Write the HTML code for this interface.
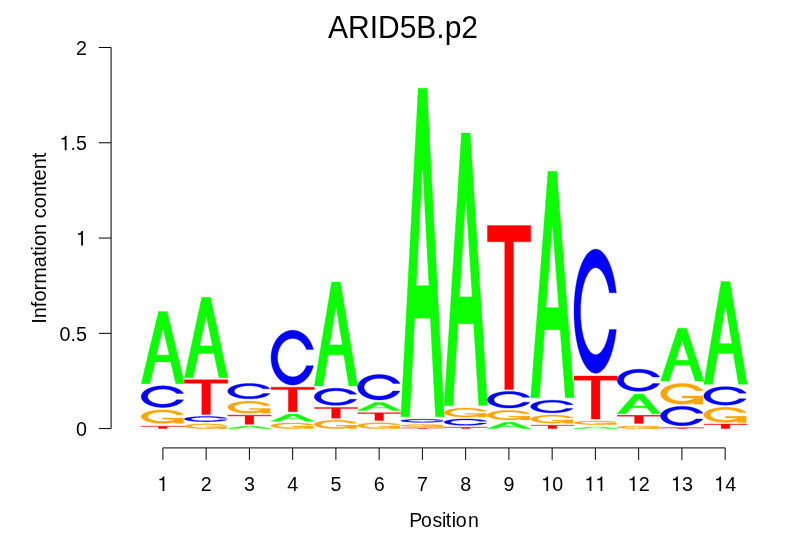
<!DOCTYPE html>
<html><head><meta charset="utf-8"><style>
html,body{margin:0;padding:0;background:#fff;}
body{width:806px;height:559px;overflow:hidden;}
svg{display:block;will-change:transform;}
defs path{vector-effect:non-scaling-stroke;stroke-width:0.35px;stroke-linejoin:round;}
.t{font-family:"Liberation Sans",sans-serif;font-size:19.7px;fill:#000;}
.ti{font-family:"Liberation Sans",sans-serif;font-size:30px;fill:#000;}
</style></head><body>
<svg width="806" height="559" viewBox="0 0 806 559">
<rect width="806" height="559" fill="#fff"/>
<defs><path id="A" d="M0,0 0.4,1 0.6,1 1,0 0.8,0 0.68,0.3 0.32,0.3 0.2,0Z"/>
<path id="Ah" d="M0.36,0.4 0.5,0.75 0.64,0.4Z"/>
<path id="T" d="M0,1 1,1 1,0.9 0.6,0.9 0.6,0 0.4,0 0.4,0.9 0,0.9Z"/>
<path id="C" d="M0.9777,0.3522 0.9757,0.3461 0.9737,0.34 0.9716,0.334 0.9695,0.3279 0.9672,0.3219 0.9649,0.3159 0.9625,0.31 0.96,0.3041 0.9575,0.2982 0.9548,0.2923 0.9521,0.2865 0.9493,0.2807 0.9465,0.275 0.9436,0.2692 0.9406,0.2636 0.9375,0.2579 0.9344,0.2523 0.9311,0.2468 0.9279,0.2413 0.9245,0.2358 0.9211,0.2304 0.9176,0.225 0.914,0.2196 0.9104,0.2144 0.9067,0.2091 0.9029,0.2039 0.8991,0.1988 0.8952,0.1937 0.8912,0.1886 0.8872,0.1836 0.8831,0.1787 0.8789,0.1738 0.8747,0.169 0.8704,0.1642 0.8661,0.1594 0.8617,0.1548 0.8572,0.1502 0.8527,0.1456 0.8481,0.1411 0.8435,0.1367 0.8388,0.1323 0.8341,0.128 0.8293,0.1237 0.8244,0.1195 0.8195,0.1154 0.8145,0.1113 0.8095,0.1073 0.8044,0.1034 0.7993,0.0995 0.7942,0.0957 0.7889,0.0919 0.7837,0.0883 0.7784,0.0847 0.773,0.0811 0.7676,0.0777 0.7622,0.0743 0.7567,0.0709 0.7512,0.0677 0.7456,0.0645 0.74,0.0614 0.7343,0.0583 0.7286,0.0553 0.7229,0.0524 0.7172,0.0496 0.7114,0.0469 0.7055,0.0442 0.6997,0.0416 0.6938,0.0391 0.6878,0.0366 0.6819,0.0342 0.6759,0.0319 0.6698,0.0297 0.6638,0.0276 0.6577,0.0255 0.6516,0.0235 0.6455,0.0216 0.6393,0.0198 0.6332,0.0181 0.627,0.0164 0.6207,0.0148 0.6145,0.0133 0.6082,0.0119 0.602,0.0105 0.5957,0.0092 0.5894,0.0081 0.583,0.0069 0.5767,0.0059 0.5704,0.005 0.564,0.0041 0.5576,0.0033 0.5513,0.0026 0.5449,0.002 0.5385,0.0015 0.5321,0.001 0.5257,0.0007 0.5192,0.0004 0.5128,0.0002 0.5064,0 0.5,0 0.5,0 0.4921,0.0001 0.4841,0.0003 0.4762,0.0006 0.4683,0.001 0.4604,0.0016 0.4525,0.0023 0.4446,0.0031 0.4367,0.004 0.4288,0.0051 0.421,0.0063 0.4132,0.0076 0.4054,0.009 0.3976,0.0106 0.3898,0.0123 0.3821,0.0141 0.3744,0.016 0.3668,0.0181 0.3591,0.0203 0.3515,0.0225 0.344,0.025 0.3365,0.0275 0.329,0.0302 0.3216,0.0329 0.3142,0.0358 0.3068,0.0388 0.2995,0.0419 0.2923,0.0452 0.2851,0.0485 0.278,0.052 0.2709,0.0556 0.2639,0.0593 0.2569,0.0631 0.25,0.067 0.2432,0.071 0.2364,0.0751 0.2297,0.0794 0.223,0.0837 0.2165,0.0882 0.21,0.0927 0.2035,0.0974 0.1972,0.1021 0.1909,0.107 0.1847,0.1119 0.1786,0.117 0.1726,0.1221 0.1666,0.1274 0.1607,0.1327 0.155,0.1381 0.1493,0.1437 0.1437,0.1493 0.1381,0.155 0.1327,0.1607 0.1274,0.1666 0.1221,0.1726 0.117,0.1786 0.1119,0.1847 0.107,0.1909 0.1021,0.1972 0.0974,0.2035 0.0927,0.21 0.0882,0.2165 0.0837,0.223 0.0794,0.2297 0.0751,0.2364 0.071,0.2432 0.067,0.25 0.0631,0.2569 0.0593,0.2639 0.0556,0.2709 0.052,0.278 0.0485,0.2851 0.0452,0.2923 0.0419,0.2995 0.0388,0.3068 0.0358,0.3142 0.0329,0.3216 0.0302,0.329 0.0275,0.3365 0.025,0.344 0.0225,0.3515 0.0203,0.3591 0.0181,0.3668 0.016,0.3744 0.0141,0.3821 0.0123,0.3898 0.0106,0.3976 0.009,0.4054 0.0076,0.4132 0.0063,0.421 0.0051,0.4288 0.004,0.4367 0.0031,0.4446 0.0023,0.4525 0.0016,0.4604 0.001,0.4683 0.0006,0.4762 0.0003,0.4841 0.0001,0.4921 0,0.5 0,0.5 0.0001,0.5079 0.0003,0.5159 0.0006,0.5238 0.001,0.5317 0.0016,0.5396 0.0023,0.5475 0.0031,0.5554 0.004,0.5633 0.0051,0.5712 0.0063,0.579 0.0076,0.5868 0.009,0.5946 0.0106,0.6024 0.0123,0.6102 0.0141,0.6179 0.016,0.6256 0.0181,0.6332 0.0203,0.6409 0.0225,0.6485 0.025,0.656 0.0275,0.6635 0.0302,0.671 0.0329,0.6784 0.0358,0.6858 0.0388,0.6932 0.0419,0.7005 0.0452,0.7077 0.0485,0.7149 0.052,0.722 0.0556,0.7291 0.0593,0.7361 0.0631,0.7431 0.067,0.75 0.071,0.7568 0.0751,0.7636 0.0794,0.7703 0.0837,0.777 0.0882,0.7835 0.0927,0.79 0.0974,0.7965 0.1021,0.8028 0.107,0.8091 0.1119,0.8153 0.117,0.8214 0.1221,0.8274 0.1274,0.8334 0.1327,0.8393 0.1381,0.845 0.1437,0.8507 0.1493,0.8563 0.155,0.8619 0.1607,0.8673 0.1666,0.8726 0.1726,0.8779 0.1786,0.883 0.1847,0.8881 0.1909,0.893 0.1972,0.8979 0.2035,0.9026 0.21,0.9073 0.2165,0.9118 0.223,0.9163 0.2297,0.9206 0.2364,0.9249 0.2432,0.929 0.25,0.933 0.2569,0.9369 0.2639,0.9407 0.2709,0.9444 0.278,0.948 0.2851,0.9515 0.2923,0.9548 0.2995,0.9581 0.3068,0.9612 0.3142,0.9642 0.3216,0.9671 0.329,0.9698 0.3365,0.9725 0.344,0.975 0.3515,0.9775 0.3591,0.9797 0.3668,0.9819 0.3744,0.984 0.3821,0.9859 0.3898,0.9877 0.3976,0.9894 0.4054,0.991 0.4132,0.9924 0.421,0.9937 0.4288,0.9949 0.4367,0.996 0.4446,0.9969 0.4525,0.9977 0.4604,0.9984 0.4683,0.999 0.4762,0.9994 0.4841,0.9997 0.4921,0.9999 0.5,1 0.5,1 0.5064,1 0.5128,0.9998 0.5192,0.9996 0.5257,0.9993 0.5321,0.999 0.5385,0.9985 0.5449,0.998 0.5513,0.9974 0.5576,0.9967 0.564,0.9959 0.5704,0.995 0.5767,0.9941 0.583,0.9931 0.5894,0.9919 0.5957,0.9908 0.602,0.9895 0.6082,0.9881 0.6145,0.9867 0.6207,0.9852 0.627,0.9836 0.6332,0.9819 0.6393,0.9802 0.6455,0.9784 0.6516,0.9765 0.6577,0.9745 0.6638,0.9724 0.6698,0.9703 0.6759,0.9681 0.6819,0.9658 0.6878,0.9634 0.6938,0.9609 0.6997,0.9584 0.7055,0.9558 0.7114,0.9531 0.7172,0.9504 0.7229,0.9476 0.7286,0.9447 0.7343,0.9417 0.74,0.9386 0.7456,0.9355 0.7512,0.9323 0.7567,0.9291 0.7622,0.9257 0.7676,0.9223 0.773,0.9189 0.7784,0.9153 0.7837,0.9117 0.7889,0.9081 0.7942,0.9043 0.7993,0.9005 0.8044,0.8966 0.8095,0.8927 0.8145,0.8887 0.8195,0.8846 0.8244,0.8805 0.8293,0.8763 0.8341,0.872 0.8388,0.8677 0.8435,0.8633 0.8481,0.8589 0.8527,0.8544 0.8572,0.8498 0.8617,0.8452 0.8661,0.8406 0.8704,0.8358 0.8747,0.831 0.8789,0.8262 0.8831,0.8213 0.8872,0.8164 0.8912,0.8114 0.8952,0.8063 0.8991,0.8012 0.9029,0.7961 0.9067,0.7909 0.9104,0.7856 0.914,0.7804 0.9176,0.775 0.9211,0.7696 0.9245,0.7642 0.9279,0.7587 0.9311,0.7532 0.9344,0.7477 0.9375,0.7421 0.9406,0.7364 0.9436,0.7308 0.9465,0.725 0.9493,0.7193 0.9521,0.7135 0.9548,0.7077 0.9575,0.7018 0.96,0.6959 0.9625,0.69 0.9649,0.6841 0.9672,0.6781 0.9695,0.6721 0.9716,0.666 0.9737,0.66 0.9757,0.6539 0.9777,0.6478 0.8165,0.6478 0.8145,0.6535 0.8125,0.6575 0.8105,0.6615 0.8084,0.6655 0.8062,0.6694 0.804,0.6734 0.8018,0.6773 0.7995,0.6811 0.7971,0.6849 0.7947,0.6887 0.7923,0.6925 0.7898,0.6962 0.7873,0.7 0.7847,0.7036 0.782,0.7073 0.7794,0.7109 0.7766,0.7144 0.7738,0.718 0.771,0.7215 0.7682,0.7249 0.7653,0.7283 0.7623,0.7317 0.7593,0.7351 0.7563,0.7384 0.7532,0.7417 0.7501,0.7449 0.7469,0.7481 0.7437,0.7512 0.7404,0.7543 0.7372,0.7574 0.7338,0.7604 0.7305,0.7634 0.7271,0.7663 0.7236,0.7692 0.7202,0.7721 0.7167,0.7749 0.7131,0.7776 0.7095,0.7804 0.7059,0.783 0.7023,0.7856 0.6986,0.7882 0.6949,0.7907 0.6911,0.7932 0.6873,0.7956 0.6835,0.798 0.6797,0.8004 0.6758,0.8026 0.6719,0.8049 0.668,0.8071 0.664,0.8092 0.6601,0.8113 0.656,0.8133 0.652,0.8153 0.6479,0.8172 0.6439,0.8191 0.6398,0.8209 0.6356,0.8227 0.6315,0.8244 0.6273,0.826 0.6231,0.8276 0.6189,0.8292 0.6147,0.8307 0.6104,0.8321 0.6061,0.8335 0.6018,0.8349 0.5975,0.8361 0.5932,0.8374 0.5889,0.8385 0.5845,0.8396 0.5802,0.8407 0.5758,0.8417 0.5714,0.8426 0.567,0.8435 0.5626,0.8444 0.5581,0.8451 0.5537,0.8459 0.5493,0.8465 0.5448,0.8471 0.5403,0.8477 0.5359,0.8482 0.5314,0.8486 0.5269,0.849 0.5224,0.8493 0.518,0.8495 0.5135,0.8497 0.509,0.8499 0.5045,0.85 0.5,0.85 0.5,0.85 0.4944,0.85 0.4889,0.8498 0.4833,0.8496 0.4778,0.8493 0.4723,0.8489 0.4667,0.8484 0.4612,0.8478 0.4557,0.8472 0.4502,0.8464 0.4447,0.8456 0.4392,0.8447 0.4338,0.8437 0.4283,0.8426 0.4229,0.8414 0.4175,0.8401 0.4121,0.8388 0.4067,0.8373 0.4014,0.8358 0.3961,0.8342 0.3908,0.8325 0.3855,0.8308 0.3803,0.8289 0.3751,0.827 0.3699,0.8249 0.3648,0.8228 0.3597,0.8206 0.3546,0.8184 0.3496,0.816 0.3446,0.8136 0.3396,0.8111 0.3347,0.8085 0.3298,0.8058 0.325,0.8031 0.3202,0.8003 0.3155,0.7974 0.3108,0.7944 0.3061,0.7914 0.3015,0.7883 0.297,0.7851 0.2925,0.7818 0.288,0.7785 0.2836,0.7751 0.2793,0.7717 0.275,0.7681 0.2708,0.7645 0.2666,0.7608 0.2625,0.7571 0.2585,0.7533 0.2545,0.7494 0.2506,0.7455 0.2467,0.7415 0.2429,0.7375 0.2392,0.7334 0.2355,0.7292 0.2319,0.725 0.2283,0.7207 0.2249,0.7164 0.2215,0.712 0.2182,0.7075 0.2149,0.703 0.2117,0.6985 0.2086,0.6939 0.2056,0.6892 0.2026,0.6845 0.1997,0.6798 0.1969,0.675 0.1942,0.6702 0.1915,0.6653 0.1889,0.6604 0.1864,0.6554 0.184,0.6504 0.1816,0.6454 0.1794,0.6403 0.1772,0.6352 0.1751,0.6301 0.173,0.6249 0.1711,0.6197 0.1692,0.6145 0.1675,0.6092 0.1658,0.6039 0.1642,0.5986 0.1627,0.5933 0.1612,0.5879 0.1599,0.5825 0.1586,0.5771 0.1574,0.5717 0.1563,0.5662 0.1553,0.5608 0.1544,0.5553 0.1536,0.5498 0.1528,0.5443 0.1522,0.5388 0.1516,0.5333 0.1511,0.5277 0.1507,0.5222 0.1504,0.5167 0.1502,0.5111 0.15,0.5056 0.15,0.5 0.15,0.5 0.15,0.4944 0.1502,0.4889 0.1504,0.4833 0.1507,0.4778 0.1511,0.4723 0.1516,0.4667 0.1522,0.4612 0.1528,0.4557 0.1536,0.4502 0.1544,0.4447 0.1553,0.4392 0.1563,0.4338 0.1574,0.4283 0.1586,0.4229 0.1599,0.4175 0.1612,0.4121 0.1627,0.4067 0.1642,0.4014 0.1658,0.3961 0.1675,0.3908 0.1692,0.3855 0.1711,0.3803 0.173,0.3751 0.1751,0.3699 0.1772,0.3648 0.1794,0.3597 0.1816,0.3546 0.184,0.3496 0.1864,0.3446 0.1889,0.3396 0.1915,0.3347 0.1942,0.3298 0.1969,0.325 0.1997,0.3202 0.2026,0.3155 0.2056,0.3108 0.2086,0.3061 0.2117,0.3015 0.2149,0.297 0.2182,0.2925 0.2215,0.288 0.2249,0.2836 0.2283,0.2793 0.2319,0.275 0.2355,0.2708 0.2392,0.2666 0.2429,0.2625 0.2467,0.2585 0.2506,0.2545 0.2545,0.2506 0.2585,0.2467 0.2625,0.2429 0.2666,0.2392 0.2708,0.2355 0.275,0.2319 0.2793,0.2283 0.2836,0.2249 0.288,0.2215 0.2925,0.2182 0.297,0.2149 0.3015,0.2117 0.3061,0.2086 0.3108,0.2056 0.3155,0.2026 0.3202,0.1997 0.325,0.1969 0.3298,0.1942 0.3347,0.1915 0.3396,0.1889 0.3446,0.1864 0.3496,0.184 0.3546,0.1816 0.3597,0.1794 0.3648,0.1772 0.3699,0.1751 0.3751,0.173 0.3803,0.1711 0.3855,0.1692 0.3908,0.1675 0.3961,0.1658 0.4014,0.1642 0.4067,0.1627 0.4121,0.1612 0.4175,0.1599 0.4229,0.1586 0.4283,0.1574 0.4338,0.1563 0.4392,0.1553 0.4447,0.1544 0.4502,0.1536 0.4557,0.1528 0.4612,0.1522 0.4667,0.1516 0.4723,0.1511 0.4778,0.1507 0.4833,0.1504 0.4889,0.1502 0.4944,0.15 0.5,0.15 0.5,0.15 0.5045,0.15 0.509,0.1501 0.5135,0.1503 0.518,0.1505 0.5224,0.1507 0.5269,0.151 0.5314,0.1514 0.5359,0.1518 0.5403,0.1523 0.5448,0.1529 0.5493,0.1535 0.5537,0.1541 0.5581,0.1549 0.5626,0.1556 0.567,0.1565 0.5714,0.1574 0.5758,0.1583 0.5802,0.1593 0.5845,0.1604 0.5889,0.1615 0.5932,0.1626 0.5975,0.1639 0.6018,0.1651 0.6061,0.1665 0.6104,0.1679 0.6147,0.1693 0.6189,0.1708 0.6231,0.1724 0.6273,0.174 0.6315,0.1756 0.6356,0.1773 0.6398,0.1791 0.6439,0.1809 0.6479,0.1828 0.652,0.1847 0.656,0.1867 0.6601,0.1887 0.664,0.1908 0.668,0.1929 0.6719,0.1951 0.6758,0.1974 0.6797,0.1996 0.6835,0.202 0.6873,0.2044 0.6911,0.2068 0.6949,0.2093 0.6986,0.2118 0.7023,0.2144 0.7059,0.217 0.7095,0.2196 0.7131,0.2224 0.7167,0.2251 0.7202,0.2279 0.7236,0.2308 0.7271,0.2337 0.7305,0.2366 0.7338,0.2396 0.7372,0.2426 0.7404,0.2457 0.7437,0.2488 0.7469,0.2519 0.7501,0.2551 0.7532,0.2583 0.7563,0.2616 0.7593,0.2649 0.7623,0.2683 0.7653,0.2717 0.7682,0.2751 0.771,0.2785 0.7738,0.282 0.7766,0.2856 0.7794,0.2891 0.782,0.2927 0.7847,0.2964 0.7873,0.3 0.7898,0.3038 0.7923,0.3075 0.7947,0.3113 0.7971,0.3151 0.7995,0.3189 0.8018,0.3227 0.804,0.3266 0.8062,0.3306 0.8084,0.3345 0.8105,0.3385 0.8125,0.3425 0.8145,0.3465 0.8165,0.3522Z"/>
<g id="G"><path d="M0.9777,0.3522 0.9757,0.3461 0.9737,0.34 0.9716,0.334 0.9695,0.3279 0.9672,0.3219 0.9649,0.3159 0.9625,0.31 0.96,0.3041 0.9575,0.2982 0.9548,0.2923 0.9521,0.2865 0.9493,0.2807 0.9465,0.275 0.9436,0.2692 0.9406,0.2636 0.9375,0.2579 0.9344,0.2523 0.9311,0.2468 0.9279,0.2413 0.9245,0.2358 0.9211,0.2304 0.9176,0.225 0.914,0.2196 0.9104,0.2144 0.9067,0.2091 0.9029,0.2039 0.8991,0.1988 0.8952,0.1937 0.8912,0.1886 0.8872,0.1836 0.8831,0.1787 0.8789,0.1738 0.8747,0.169 0.8704,0.1642 0.8661,0.1594 0.8617,0.1548 0.8572,0.1502 0.8527,0.1456 0.8481,0.1411 0.8435,0.1367 0.8388,0.1323 0.8341,0.128 0.8293,0.1237 0.8244,0.1195 0.8195,0.1154 0.8145,0.1113 0.8095,0.1073 0.8044,0.1034 0.7993,0.0995 0.7942,0.0957 0.7889,0.0919 0.7837,0.0883 0.7784,0.0847 0.773,0.0811 0.7676,0.0777 0.7622,0.0743 0.7567,0.0709 0.7512,0.0677 0.7456,0.0645 0.74,0.0614 0.7343,0.0583 0.7286,0.0553 0.7229,0.0524 0.7172,0.0496 0.7114,0.0469 0.7055,0.0442 0.6997,0.0416 0.6938,0.0391 0.6878,0.0366 0.6819,0.0342 0.6759,0.0319 0.6698,0.0297 0.6638,0.0276 0.6577,0.0255 0.6516,0.0235 0.6455,0.0216 0.6393,0.0198 0.6332,0.0181 0.627,0.0164 0.6207,0.0148 0.6145,0.0133 0.6082,0.0119 0.602,0.0105 0.5957,0.0092 0.5894,0.0081 0.583,0.0069 0.5767,0.0059 0.5704,0.005 0.564,0.0041 0.5576,0.0033 0.5513,0.0026 0.5449,0.002 0.5385,0.0015 0.5321,0.001 0.5257,0.0007 0.5192,0.0004 0.5128,0.0002 0.5064,0 0.5,0 0.5,0 0.4921,0.0001 0.4841,0.0003 0.4762,0.0006 0.4683,0.001 0.4604,0.0016 0.4525,0.0023 0.4446,0.0031 0.4367,0.004 0.4288,0.0051 0.421,0.0063 0.4132,0.0076 0.4054,0.009 0.3976,0.0106 0.3898,0.0123 0.3821,0.0141 0.3744,0.016 0.3668,0.0181 0.3591,0.0203 0.3515,0.0225 0.344,0.025 0.3365,0.0275 0.329,0.0302 0.3216,0.0329 0.3142,0.0358 0.3068,0.0388 0.2995,0.0419 0.2923,0.0452 0.2851,0.0485 0.278,0.052 0.2709,0.0556 0.2639,0.0593 0.2569,0.0631 0.25,0.067 0.2432,0.071 0.2364,0.0751 0.2297,0.0794 0.223,0.0837 0.2165,0.0882 0.21,0.0927 0.2035,0.0974 0.1972,0.1021 0.1909,0.107 0.1847,0.1119 0.1786,0.117 0.1726,0.1221 0.1666,0.1274 0.1607,0.1327 0.155,0.1381 0.1493,0.1437 0.1437,0.1493 0.1381,0.155 0.1327,0.1607 0.1274,0.1666 0.1221,0.1726 0.117,0.1786 0.1119,0.1847 0.107,0.1909 0.1021,0.1972 0.0974,0.2035 0.0927,0.21 0.0882,0.2165 0.0837,0.223 0.0794,0.2297 0.0751,0.2364 0.071,0.2432 0.067,0.25 0.0631,0.2569 0.0593,0.2639 0.0556,0.2709 0.052,0.278 0.0485,0.2851 0.0452,0.2923 0.0419,0.2995 0.0388,0.3068 0.0358,0.3142 0.0329,0.3216 0.0302,0.329 0.0275,0.3365 0.025,0.344 0.0225,0.3515 0.0203,0.3591 0.0181,0.3668 0.016,0.3744 0.0141,0.3821 0.0123,0.3898 0.0106,0.3976 0.009,0.4054 0.0076,0.4132 0.0063,0.421 0.0051,0.4288 0.004,0.4367 0.0031,0.4446 0.0023,0.4525 0.0016,0.4604 0.001,0.4683 0.0006,0.4762 0.0003,0.4841 0.0001,0.4921 0,0.5 0,0.5 0.0001,0.5079 0.0003,0.5159 0.0006,0.5238 0.001,0.5317 0.0016,0.5396 0.0023,0.5475 0.0031,0.5554 0.004,0.5633 0.0051,0.5712 0.0063,0.579 0.0076,0.5868 0.009,0.5946 0.0106,0.6024 0.0123,0.6102 0.0141,0.6179 0.016,0.6256 0.0181,0.6332 0.0203,0.6409 0.0225,0.6485 0.025,0.656 0.0275,0.6635 0.0302,0.671 0.0329,0.6784 0.0358,0.6858 0.0388,0.6932 0.0419,0.7005 0.0452,0.7077 0.0485,0.7149 0.052,0.722 0.0556,0.7291 0.0593,0.7361 0.0631,0.7431 0.067,0.75 0.071,0.7568 0.0751,0.7636 0.0794,0.7703 0.0837,0.777 0.0882,0.7835 0.0927,0.79 0.0974,0.7965 0.1021,0.8028 0.107,0.8091 0.1119,0.8153 0.117,0.8214 0.1221,0.8274 0.1274,0.8334 0.1327,0.8393 0.1381,0.845 0.1437,0.8507 0.1493,0.8563 0.155,0.8619 0.1607,0.8673 0.1666,0.8726 0.1726,0.8779 0.1786,0.883 0.1847,0.8881 0.1909,0.893 0.1972,0.8979 0.2035,0.9026 0.21,0.9073 0.2165,0.9118 0.223,0.9163 0.2297,0.9206 0.2364,0.9249 0.2432,0.929 0.25,0.933 0.2569,0.9369 0.2639,0.9407 0.2709,0.9444 0.278,0.948 0.2851,0.9515 0.2923,0.9548 0.2995,0.9581 0.3068,0.9612 0.3142,0.9642 0.3216,0.9671 0.329,0.9698 0.3365,0.9725 0.344,0.975 0.3515,0.9775 0.3591,0.9797 0.3668,0.9819 0.3744,0.984 0.3821,0.9859 0.3898,0.9877 0.3976,0.9894 0.4054,0.991 0.4132,0.9924 0.421,0.9937 0.4288,0.9949 0.4367,0.996 0.4446,0.9969 0.4525,0.9977 0.4604,0.9984 0.4683,0.999 0.4762,0.9994 0.4841,0.9997 0.4921,0.9999 0.5,1 0.5,1 0.5064,1 0.5128,0.9998 0.5192,0.9996 0.5257,0.9993 0.5321,0.999 0.5385,0.9985 0.5449,0.998 0.5513,0.9974 0.5576,0.9967 0.564,0.9959 0.5704,0.995 0.5767,0.9941 0.583,0.9931 0.5894,0.9919 0.5957,0.9908 0.602,0.9895 0.6082,0.9881 0.6145,0.9867 0.6207,0.9852 0.627,0.9836 0.6332,0.9819 0.6393,0.9802 0.6455,0.9784 0.6516,0.9765 0.6577,0.9745 0.6638,0.9724 0.6698,0.9703 0.6759,0.9681 0.6819,0.9658 0.6878,0.9634 0.6938,0.9609 0.6997,0.9584 0.7055,0.9558 0.7114,0.9531 0.7172,0.9504 0.7229,0.9476 0.7286,0.9447 0.7343,0.9417 0.74,0.9386 0.7456,0.9355 0.7512,0.9323 0.7567,0.9291 0.7622,0.9257 0.7676,0.9223 0.773,0.9189 0.7784,0.9153 0.7837,0.9117 0.7889,0.9081 0.7942,0.9043 0.7993,0.9005 0.8044,0.8966 0.8095,0.8927 0.8145,0.8887 0.8195,0.8846 0.8244,0.8805 0.8293,0.8763 0.8341,0.872 0.8388,0.8677 0.8435,0.8633 0.8481,0.8589 0.8527,0.8544 0.8572,0.8498 0.8617,0.8452 0.8661,0.8406 0.8704,0.8358 0.8747,0.831 0.8789,0.8262 0.8831,0.8213 0.8872,0.8164 0.8912,0.8114 0.8952,0.8063 0.8991,0.8012 0.9029,0.7961 0.9067,0.7909 0.9104,0.7856 0.914,0.7804 0.9176,0.775 0.9211,0.7696 0.9245,0.7642 0.9279,0.7587 0.9311,0.7532 0.9344,0.7477 0.9375,0.7421 0.9406,0.7364 0.9436,0.7308 0.9465,0.725 0.9493,0.7193 0.9521,0.7135 0.9548,0.7077 0.9575,0.7018 0.96,0.6959 0.9625,0.69 0.9649,0.6841 0.9672,0.6781 0.9695,0.6721 0.9716,0.666 0.9737,0.66 0.9757,0.6539 0.9777,0.6478 0.8165,0.6478 0.8145,0.6535 0.8125,0.6575 0.8105,0.6615 0.8084,0.6655 0.8062,0.6694 0.804,0.6734 0.8018,0.6773 0.7995,0.6811 0.7971,0.6849 0.7947,0.6887 0.7923,0.6925 0.7898,0.6962 0.7873,0.7 0.7847,0.7036 0.782,0.7073 0.7794,0.7109 0.7766,0.7144 0.7738,0.718 0.771,0.7215 0.7682,0.7249 0.7653,0.7283 0.7623,0.7317 0.7593,0.7351 0.7563,0.7384 0.7532,0.7417 0.7501,0.7449 0.7469,0.7481 0.7437,0.7512 0.7404,0.7543 0.7372,0.7574 0.7338,0.7604 0.7305,0.7634 0.7271,0.7663 0.7236,0.7692 0.7202,0.7721 0.7167,0.7749 0.7131,0.7776 0.7095,0.7804 0.7059,0.783 0.7023,0.7856 0.6986,0.7882 0.6949,0.7907 0.6911,0.7932 0.6873,0.7956 0.6835,0.798 0.6797,0.8004 0.6758,0.8026 0.6719,0.8049 0.668,0.8071 0.664,0.8092 0.6601,0.8113 0.656,0.8133 0.652,0.8153 0.6479,0.8172 0.6439,0.8191 0.6398,0.8209 0.6356,0.8227 0.6315,0.8244 0.6273,0.826 0.6231,0.8276 0.6189,0.8292 0.6147,0.8307 0.6104,0.8321 0.6061,0.8335 0.6018,0.8349 0.5975,0.8361 0.5932,0.8374 0.5889,0.8385 0.5845,0.8396 0.5802,0.8407 0.5758,0.8417 0.5714,0.8426 0.567,0.8435 0.5626,0.8444 0.5581,0.8451 0.5537,0.8459 0.5493,0.8465 0.5448,0.8471 0.5403,0.8477 0.5359,0.8482 0.5314,0.8486 0.5269,0.849 0.5224,0.8493 0.518,0.8495 0.5135,0.8497 0.509,0.8499 0.5045,0.85 0.5,0.85 0.5,0.85 0.4944,0.85 0.4889,0.8498 0.4833,0.8496 0.4778,0.8493 0.4723,0.8489 0.4667,0.8484 0.4612,0.8478 0.4557,0.8472 0.4502,0.8464 0.4447,0.8456 0.4392,0.8447 0.4338,0.8437 0.4283,0.8426 0.4229,0.8414 0.4175,0.8401 0.4121,0.8388 0.4067,0.8373 0.4014,0.8358 0.3961,0.8342 0.3908,0.8325 0.3855,0.8308 0.3803,0.8289 0.3751,0.827 0.3699,0.8249 0.3648,0.8228 0.3597,0.8206 0.3546,0.8184 0.3496,0.816 0.3446,0.8136 0.3396,0.8111 0.3347,0.8085 0.3298,0.8058 0.325,0.8031 0.3202,0.8003 0.3155,0.7974 0.3108,0.7944 0.3061,0.7914 0.3015,0.7883 0.297,0.7851 0.2925,0.7818 0.288,0.7785 0.2836,0.7751 0.2793,0.7717 0.275,0.7681 0.2708,0.7645 0.2666,0.7608 0.2625,0.7571 0.2585,0.7533 0.2545,0.7494 0.2506,0.7455 0.2467,0.7415 0.2429,0.7375 0.2392,0.7334 0.2355,0.7292 0.2319,0.725 0.2283,0.7207 0.2249,0.7164 0.2215,0.712 0.2182,0.7075 0.2149,0.703 0.2117,0.6985 0.2086,0.6939 0.2056,0.6892 0.2026,0.6845 0.1997,0.6798 0.1969,0.675 0.1942,0.6702 0.1915,0.6653 0.1889,0.6604 0.1864,0.6554 0.184,0.6504 0.1816,0.6454 0.1794,0.6403 0.1772,0.6352 0.1751,0.6301 0.173,0.6249 0.1711,0.6197 0.1692,0.6145 0.1675,0.6092 0.1658,0.6039 0.1642,0.5986 0.1627,0.5933 0.1612,0.5879 0.1599,0.5825 0.1586,0.5771 0.1574,0.5717 0.1563,0.5662 0.1553,0.5608 0.1544,0.5553 0.1536,0.5498 0.1528,0.5443 0.1522,0.5388 0.1516,0.5333 0.1511,0.5277 0.1507,0.5222 0.1504,0.5167 0.1502,0.5111 0.15,0.5056 0.15,0.5 0.15,0.5 0.15,0.4944 0.1502,0.4889 0.1504,0.4833 0.1507,0.4778 0.1511,0.4723 0.1516,0.4667 0.1522,0.4612 0.1528,0.4557 0.1536,0.4502 0.1544,0.4447 0.1553,0.4392 0.1563,0.4338 0.1574,0.4283 0.1586,0.4229 0.1599,0.4175 0.1612,0.4121 0.1627,0.4067 0.1642,0.4014 0.1658,0.3961 0.1675,0.3908 0.1692,0.3855 0.1711,0.3803 0.173,0.3751 0.1751,0.3699 0.1772,0.3648 0.1794,0.3597 0.1816,0.3546 0.184,0.3496 0.1864,0.3446 0.1889,0.3396 0.1915,0.3347 0.1942,0.3298 0.1969,0.325 0.1997,0.3202 0.2026,0.3155 0.2056,0.3108 0.2086,0.3061 0.2117,0.3015 0.2149,0.297 0.2182,0.2925 0.2215,0.288 0.2249,0.2836 0.2283,0.2793 0.2319,0.275 0.2355,0.2708 0.2392,0.2666 0.2429,0.2625 0.2467,0.2585 0.2506,0.2545 0.2545,0.2506 0.2585,0.2467 0.2625,0.2429 0.2666,0.2392 0.2708,0.2355 0.275,0.2319 0.2793,0.2283 0.2836,0.2249 0.288,0.2215 0.2925,0.2182 0.297,0.2149 0.3015,0.2117 0.3061,0.2086 0.3108,0.2056 0.3155,0.2026 0.3202,0.1997 0.325,0.1969 0.3298,0.1942 0.3347,0.1915 0.3396,0.1889 0.3446,0.1864 0.3496,0.184 0.3546,0.1816 0.3597,0.1794 0.3648,0.1772 0.3699,0.1751 0.3751,0.173 0.3803,0.1711 0.3855,0.1692 0.3908,0.1675 0.3961,0.1658 0.4014,0.1642 0.4067,0.1627 0.4121,0.1612 0.4175,0.1599 0.4229,0.1586 0.4283,0.1574 0.4338,0.1563 0.4392,0.1553 0.4447,0.1544 0.4502,0.1536 0.4557,0.1528 0.4612,0.1522 0.4667,0.1516 0.4723,0.1511 0.4778,0.1507 0.4833,0.1504 0.4889,0.1502 0.4944,0.15 0.5,0.15 0.5,0.15 0.5045,0.15 0.509,0.1501 0.5135,0.1503 0.518,0.1505 0.5224,0.1507 0.5269,0.151 0.5314,0.1514 0.5359,0.1518 0.5403,0.1523 0.5448,0.1529 0.5493,0.1535 0.5537,0.1541 0.5581,0.1549 0.5626,0.1556 0.567,0.1565 0.5714,0.1574 0.5758,0.1583 0.5802,0.1593 0.5845,0.1604 0.5889,0.1615 0.5932,0.1626 0.5975,0.1639 0.6018,0.1651 0.6061,0.1665 0.6104,0.1679 0.6147,0.1693 0.6189,0.1708 0.6231,0.1724 0.6273,0.174 0.6315,0.1756 0.6356,0.1773 0.6398,0.1791 0.6439,0.1809 0.6479,0.1828 0.652,0.1847 0.656,0.1867 0.6601,0.1887 0.664,0.1908 0.668,0.1929 0.6719,0.1951 0.6758,0.1974 0.6797,0.1996 0.6835,0.202 0.6873,0.2044 0.6911,0.2068 0.6949,0.2093 0.6986,0.2118 0.7023,0.2144 0.7059,0.217 0.7095,0.2196 0.7131,0.2224 0.7167,0.2251 0.7202,0.2279 0.7236,0.2308 0.7271,0.2337 0.7305,0.2366 0.7338,0.2396 0.7372,0.2426 0.7404,0.2457 0.7437,0.2488 0.7469,0.2519 0.7501,0.2551 0.7532,0.2583 0.7563,0.2616 0.7593,0.2649 0.7623,0.2683 0.7653,0.2717 0.7682,0.2751 0.771,0.2785 0.7738,0.282 0.7766,0.2856 0.7794,0.2891 0.782,0.2927 0.7847,0.2964 0.7873,0.3 0.7898,0.3038 0.7923,0.3075 0.7947,0.3113 0.7971,0.3151 0.7995,0.3189 0.8018,0.3227 0.804,0.3266 0.8062,0.3306 0.8084,0.3345 0.8105,0.3385 0.8125,0.3425 0.8145,0.3465 0.8165,0.3522Z"/><path d="M0.9777,0.4 0.5,0.4 0.5,0.3 0.7777,0.3 0.7777,0 0.9777,0 0.9777,0.4Z"/></g>
<path id="one" d="M0.352 0L0.352 0.709L0.285 0.709C0.262 0.64 0.21 0.6 0.1 0.595L0.1 0.525L0.262 0.525L0.262 0Z" fill="#000" style="stroke:none"/></defs>
<use href="#T" transform="matrix(43.28 0 0 -2.45 141.2 428.6)" fill="#ff0000" stroke="#ff0000"/>
<use href="#G" transform="matrix(43.28 0 0 -13.4 141.2 423.35)" fill="#ffa500" stroke="#ffa500"/>
<use href="#C" transform="matrix(43.28 0 0 -21.6 141.2 407.45)" fill="#0000ff" stroke="#0000ff"/>
<use href="#A" transform="matrix(43.28 0 0 -72.1 141.2 383.65)" fill="#0cff00" stroke="#0cff00"/>
<use href="#Ah" transform="matrix(43.28 0 0 -72.1 141.2 383.65)" fill="#fff" stroke="#fff"/>
<use href="#G" transform="matrix(43.28 0 0 -4.75 184.48 428.6)" fill="#ffa500" stroke="#ffa500"/>
<use href="#C" transform="matrix(43.28 0 0 -5.2 184.48 421.65)" fill="#0000ff" stroke="#0000ff"/>
<use href="#T" transform="matrix(43.28 0 0 -34.7 184.48 414.45)" fill="#ff0000" stroke="#ff0000"/>
<use href="#A" transform="matrix(43.28 0 0 -80.6 184.48 377.75)" fill="#0cff00" stroke="#0cff00"/>
<use href="#Ah" transform="matrix(43.28 0 0 -80.6 184.48 377.75)" fill="#fff" stroke="#fff"/>
<use href="#A" transform="matrix(43.28 0 0 -2.65 227.76 428.6)" fill="#0cff00" stroke="#0cff00"/>
<use href="#Ah" transform="matrix(43.28 0 0 -2.65 227.76 428.6)" fill="#fff" stroke="#fff"/>
<use href="#T" transform="matrix(43.28 0 0 -9.2 227.76 424.35)" fill="#ff0000" stroke="#ff0000"/>
<use href="#G" transform="matrix(43.28 0 0 -11.9 227.76 413.15)" fill="#ffa500" stroke="#ffa500"/>
<use href="#C" transform="matrix(43.28 0 0 -15.4 227.76 398.85)" fill="#0000ff" stroke="#0000ff"/>
<use href="#G" transform="matrix(43.28 0 0 -5.65 271.04 428.6)" fill="#ffa500" stroke="#ffa500"/>
<use href="#A" transform="matrix(43.28 0 0 -7.2 271.04 421.15)" fill="#0cff00" stroke="#0cff00"/>
<use href="#Ah" transform="matrix(43.28 0 0 -7.2 271.04 421.15)" fill="#fff" stroke="#fff"/>
<use href="#T" transform="matrix(43.28 0 0 -24.6 271.04 411.75)" fill="#ff0000" stroke="#ff0000"/>
<use href="#C" transform="matrix(43.28 0 0 -54.8 271.04 385.05)" fill="#0000ff" stroke="#0000ff"/>
<use href="#G" transform="matrix(43.28 0 0 -8.35 314.32 428.6)" fill="#ffa500" stroke="#ffa500"/>
<use href="#T" transform="matrix(43.28 0 0 -10.8 314.32 418.25)" fill="#ff0000" stroke="#ff0000"/>
<use href="#C" transform="matrix(43.28 0 0 -17.1 314.32 405.35)" fill="#0000ff" stroke="#0000ff"/>
<use href="#A" transform="matrix(43.28 0 0 -103.9 314.32 385.95)" fill="#0cff00" stroke="#0cff00"/>
<use href="#Ah" transform="matrix(43.28 0 0 -103.9 314.32 385.95)" fill="#fff" stroke="#fff"/>
<use href="#G" transform="matrix(43.28 0 0 -5.85 357.6 428.6)" fill="#ffa500" stroke="#ffa500"/>
<use href="#T" transform="matrix(43.28 0 0 -7.8 357.6 420.55)" fill="#ff0000" stroke="#ff0000"/>
<use href="#A" transform="matrix(43.28 0 0 -8 357.6 410.45)" fill="#0cff00" stroke="#0cff00"/>
<use href="#Ah" transform="matrix(43.28 0 0 -8 357.6 410.45)" fill="#fff" stroke="#fff"/>
<use href="#C" transform="matrix(43.28 0 0 -25.4 357.6 399.95)" fill="#0000ff" stroke="#0000ff"/>
<use href="#T" transform="matrix(43.28 0 0 -0.7 400.88 428.6)" fill="#ff0000" stroke="#ff0000"/>
<use href="#G" transform="matrix(43.28 0 0 -1.8 400.88 426.45)" fill="#ffa500" stroke="#ffa500"/>
<use href="#C" transform="matrix(43.28 0 0 -3.1 400.88 422.35)" fill="#0000ff" stroke="#0000ff"/>
<use href="#A" transform="matrix(43.28 0 0 -328.4 400.88 416.65)" fill="#0cff00" stroke="#0cff00"/>
<use href="#Ah" transform="matrix(43.28 0 0 -328.4 400.88 416.65)" fill="#fff" stroke="#fff"/>
<use href="#T" transform="matrix(43.28 0 0 -1.35 444.16 428.6)" fill="#ff0000" stroke="#ff0000"/>
<use href="#C" transform="matrix(43.28 0 0 -6.4 444.16 425.35)" fill="#0000ff" stroke="#0000ff"/>
<use href="#G" transform="matrix(43.28 0 0 -9 444.16 417.05)" fill="#ffa500" stroke="#ffa500"/>
<use href="#A" transform="matrix(43.28 0 0 -272.5 444.16 405.55)" fill="#0cff00" stroke="#0cff00"/>
<use href="#Ah" transform="matrix(43.28 0 0 -272.5 444.16 405.55)" fill="#fff" stroke="#fff"/>
<use href="#A" transform="matrix(43.28 0 0 -6.35 487.44 428.6)" fill="#0cff00" stroke="#0cff00"/>
<use href="#Ah" transform="matrix(43.28 0 0 -6.35 487.44 428.6)" fill="#fff" stroke="#fff"/>
<use href="#G" transform="matrix(43.28 0 0 -9.5 487.44 419.95)" fill="#ffa500" stroke="#ffa500"/>
<use href="#C" transform="matrix(43.28 0 0 -16.6 487.44 408.05)" fill="#0000ff" stroke="#0000ff"/>
<use href="#T" transform="matrix(43.28 0 0 -164 487.44 389.45)" fill="#ff0000" stroke="#ff0000"/>
<use href="#T" transform="matrix(43.28 0 0 -3.45 530.72 428.6)" fill="#ff0000" stroke="#ff0000"/>
<use href="#G" transform="matrix(43.28 0 0 -8.1 530.72 423.15)" fill="#ffa500" stroke="#ffa500"/>
<use href="#C" transform="matrix(43.28 0 0 -12.6 530.72 412.85)" fill="#0000ff" stroke="#0000ff"/>
<use href="#A" transform="matrix(43.28 0 0 -226.5 530.72 397.75)" fill="#0cff00" stroke="#0cff00"/>
<use href="#Ah" transform="matrix(43.28 0 0 -226.5 530.72 397.75)" fill="#fff" stroke="#fff"/>
<use href="#A" transform="matrix(43.28 0 0 -1.65 574 428.6)" fill="#0cff00" stroke="#0cff00"/>
<use href="#Ah" transform="matrix(43.28 0 0 -1.65 574 428.6)" fill="#fff" stroke="#fff"/>
<use href="#G" transform="matrix(43.28 0 0 -3.5 574 424.55)" fill="#ffa500" stroke="#ffa500"/>
<use href="#T" transform="matrix(43.28 0 0 -43.1 574 419.05)" fill="#ff0000" stroke="#ff0000"/>
<use href="#C" transform="matrix(43.28 0 0 -124.1 574 373.25)" fill="#0000ff" stroke="#0000ff"/>
<use href="#G" transform="matrix(43.28 0 0 -2.65 617.28 428.6)" fill="#ffa500" stroke="#ffa500"/>
<use href="#T" transform="matrix(43.28 0 0 -8.2 617.28 423.55)" fill="#ff0000" stroke="#ff0000"/>
<use href="#A" transform="matrix(43.28 0 0 -19.6 617.28 413.65)" fill="#0cff00" stroke="#0cff00"/>
<use href="#Ah" transform="matrix(43.28 0 0 -19.6 617.28 413.65)" fill="#fff" stroke="#fff"/>
<use href="#C" transform="matrix(43.28 0 0 -22.1 617.28 391.35)" fill="#0000ff" stroke="#0000ff"/>
<use href="#T" transform="matrix(43.28 0 0 -0.75 660.56 428.6)" fill="#ff0000" stroke="#ff0000"/>
<use href="#C" transform="matrix(43.28 0 0 -19.4 660.56 425.75)" fill="#0000ff" stroke="#0000ff"/>
<use href="#G" transform="matrix(43.28 0 0 -20.8 660.56 404.25)" fill="#ffa500" stroke="#ffa500"/>
<use href="#A" transform="matrix(43.28 0 0 -52.8 660.56 381.05)" fill="#0cff00" stroke="#0cff00"/>
<use href="#Ah" transform="matrix(43.28 0 0 -52.8 660.56 381.05)" fill="#fff" stroke="#fff"/>
<use href="#T" transform="matrix(43.28 0 0 -4.55 703.84 428.6)" fill="#ff0000" stroke="#ff0000"/>
<use href="#G" transform="matrix(43.28 0 0 -15.2 703.84 422.45)" fill="#ffa500" stroke="#ffa500"/>
<use href="#C" transform="matrix(43.28 0 0 -18.5 703.84 405.15)" fill="#0000ff" stroke="#0000ff"/>
<use href="#A" transform="matrix(43.28 0 0 -102.7 703.84 384.25)" fill="#0cff00" stroke="#0cff00"/>
<use href="#Ah" transform="matrix(43.28 0 0 -102.7 703.84 384.25)" fill="#fff" stroke="#fff"/>
<path d="M111.1 47.5 L111.1 428.6" stroke="#000" stroke-width="1" fill="none"/>
<path d="M98.8 428.6 L111.1 428.6" stroke="#000" stroke-width="1" fill="none"/>
<g transform="translate(76.04 436.1) scale(1 1.04)"><text x="0" y="0" class="t" style="font-size:19.7px">0</text></g>
<path d="M98.8 333.33 L111.1 333.33" stroke="#000" stroke-width="1" fill="none"/>
<g transform="translate(59.61 340.83) scale(1 1.04)"><text x="0" y="0" class="t" style="font-size:19.7px">0</text><text x="10.96" y="0" class="t" style="font-size:19.7px">.</text><text x="16.43" y="0" class="t" style="font-size:19.7px">5</text></g>
<path d="M98.8 238.05 L111.1 238.05" stroke="#000" stroke-width="1" fill="none"/>
<g transform="translate(76.04 245.55) scale(1 1.04)"><use href="#one" transform="translate(0 0) scale(19.7 -19.7)"/></g>
<path d="M98.8 142.77 L111.1 142.77" stroke="#000" stroke-width="1" fill="none"/>
<g transform="translate(59.61 150.27) scale(1 1.04)"><use href="#one" transform="translate(0 0) scale(19.7 -19.7)"/><text x="10.96" y="0" class="t" style="font-size:19.7px">.</text><text x="16.43" y="0" class="t" style="font-size:19.7px">5</text></g>
<path d="M98.8 47.5 L111.1 47.5" stroke="#000" stroke-width="1" fill="none"/>
<g transform="translate(76.04 55) scale(1 1.04)"><text x="0" y="0" class="t" style="font-size:19.7px">2</text></g>
<path d="M162.9 447.9 L725.15 447.9" stroke="#000" stroke-width="1" fill="none"/>
<path d="M162.9 447.9 L162.9 459.9" stroke="#000" stroke-width="1" fill="none"/>
<g transform="translate(157.42 491) scale(1 1.04)"><use href="#one" transform="translate(0 0) scale(19.7 -19.7)"/></g>
<path d="M206.15 447.9 L206.15 459.9" stroke="#000" stroke-width="1" fill="none"/>
<g transform="translate(200.67 491) scale(1 1.04)"><text x="0" y="0" class="t" style="font-size:19.7px">2</text></g>
<path d="M249.4 447.9 L249.4 459.9" stroke="#000" stroke-width="1" fill="none"/>
<g transform="translate(243.92 491) scale(1 1.04)"><text x="0" y="0" class="t" style="font-size:19.7px">3</text></g>
<path d="M292.65 447.9 L292.65 459.9" stroke="#000" stroke-width="1" fill="none"/>
<g transform="translate(287.17 491) scale(1 1.04)"><text x="0" y="0" class="t" style="font-size:19.7px">4</text></g>
<path d="M335.9 447.9 L335.9 459.9" stroke="#000" stroke-width="1" fill="none"/>
<g transform="translate(330.42 491) scale(1 1.04)"><text x="0" y="0" class="t" style="font-size:19.7px">5</text></g>
<path d="M379.15 447.9 L379.15 459.9" stroke="#000" stroke-width="1" fill="none"/>
<g transform="translate(373.67 491) scale(1 1.04)"><text x="0" y="0" class="t" style="font-size:19.7px">6</text></g>
<path d="M422.4 447.9 L422.4 459.9" stroke="#000" stroke-width="1" fill="none"/>
<g transform="translate(416.92 491) scale(1 1.04)"><text x="0" y="0" class="t" style="font-size:19.7px">7</text></g>
<path d="M465.65 447.9 L465.65 459.9" stroke="#000" stroke-width="1" fill="none"/>
<g transform="translate(460.17 491) scale(1 1.04)"><text x="0" y="0" class="t" style="font-size:19.7px">8</text></g>
<path d="M508.9 447.9 L508.9 459.9" stroke="#000" stroke-width="1" fill="none"/>
<g transform="translate(503.42 491) scale(1 1.04)"><text x="0" y="0" class="t" style="font-size:19.7px">9</text></g>
<path d="M552.15 447.9 L552.15 459.9" stroke="#000" stroke-width="1" fill="none"/>
<g transform="translate(541.19 491) scale(1 1.04)"><use href="#one" transform="translate(0 0) scale(19.7 -19.7)"/><text x="10.96" y="0" class="t" style="font-size:19.7px">0</text></g>
<path d="M595.4 447.9 L595.4 459.9" stroke="#000" stroke-width="1" fill="none"/>
<g transform="translate(584.44 491) scale(1 1.04)"><use href="#one" transform="translate(0 0) scale(19.7 -19.7)"/><use href="#one" transform="translate(10.96 0) scale(19.7 -19.7)"/></g>
<path d="M638.65 447.9 L638.65 459.9" stroke="#000" stroke-width="1" fill="none"/>
<g transform="translate(627.69 491) scale(1 1.04)"><use href="#one" transform="translate(0 0) scale(19.7 -19.7)"/><text x="10.96" y="0" class="t" style="font-size:19.7px">2</text></g>
<path d="M681.9 447.9 L681.9 459.9" stroke="#000" stroke-width="1" fill="none"/>
<g transform="translate(670.94 491) scale(1 1.04)"><use href="#one" transform="translate(0 0) scale(19.7 -19.7)"/><text x="10.96" y="0" class="t" style="font-size:19.7px">3</text></g>
<path d="M725.15 447.9 L725.15 459.9" stroke="#000" stroke-width="1" fill="none"/>
<g transform="translate(714.19 491) scale(1 1.04)"><use href="#one" transform="translate(0 0) scale(19.7 -19.7)"/><text x="10.96" y="0" class="t" style="font-size:19.7px">4</text></g>
<text transform="translate(0 527) scale(1 1.02)" x="409.2 420.9 432.5 441.9 445.8 451.8 455.8 467.9" y="0" class="t" style="font-size:19.5px">Position</text>
<text transform="translate(46.4 238.2) rotate(-90)" x="0" y="0" text-anchor="middle" class="t" style="font-size:20px">Information content</text>
<text transform="translate(403 38.1) scale(1 1.05)" text-anchor="middle" class="ti">ARID5B.p2</text>
</svg>
</body></html>
